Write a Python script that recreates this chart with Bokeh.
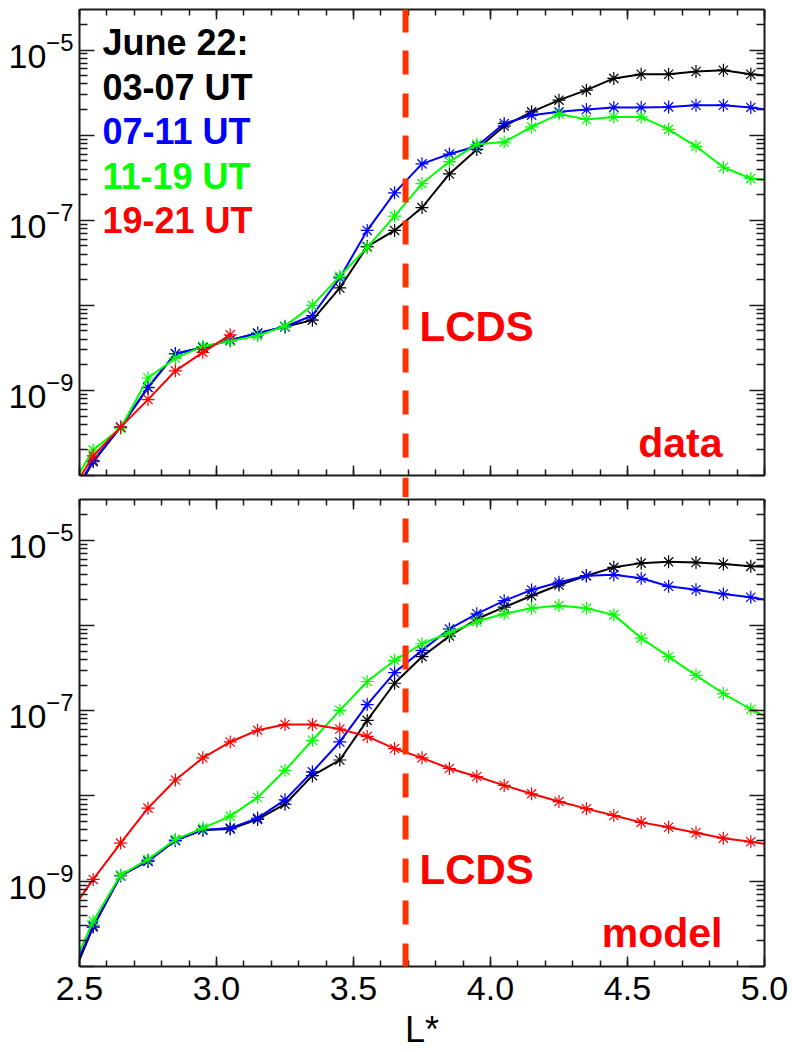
from bokeh.plotting import figure
from bokeh.models import Range1d, FixedTicker, LogAxis, LinearAxis, Label, PrintfTickFormatter
from bokeh.layouts import column
from bokeh.embed import file_html
from bokeh.resources import INLINE

# ---------------- data ----------------
L_STAR = [2.45, 2.55, 2.65, 2.75, 2.85, 2.95, 3.05, 3.15, 3.25, 3.35, 3.45, 3.55, 3.65, 3.75,
          3.85, 3.95, 4.05, 4.15, 4.25, 4.35, 4.45, 4.55, 4.65, 4.75, 4.85, 4.95, 5.05]
L_STAR_1921_DATA = [2.45, 2.55, 2.65, 2.75, 2.85, 2.95, 3.05]

data_0307 = [4.0e-11, 1.45e-10, 3.7e-10, 1.08e-9, 2.7e-9, 3.2e-9, 3.9e-9, 4.7e-9, 5.6e-9, 6.7e-9,
             1.6e-8, 4.9e-8, 7.6e-8, 1.41e-7, 3.5e-7, 6.8e-7, 1.28e-6, 1.88e-6, 2.58e-6, 3.38e-6,
             4.65e-6, 5.2e-6, 5.2e-6, 5.6e-6, 5.8e-6, 5.2e-6, 4.9e-6]
data_0711 = [4.3e-11, 1.5e-10, 3.7e-10, 1.09e-9, 2.7e-9, 3.2e-9, 3.9e-9, 4.7e-9, 5.6e-9, 7.6e-9,
             2.1e-8, 7.6e-8, 2.1e-7, 4.6e-7, 6.0e-7, 7.4e-7, 1.37e-6, 1.72e-6, 1.88e-6, 2.0e-6,
             2.12e-6, 2.12e-6, 2.15e-6, 2.25e-6, 2.25e-6, 2.12e-6, 1.91e-6]
data_1119 = [5.8e-11, 2.0e-10, 3.6e-10, 1.4e-9, 2.4e-9, 3.3e-9, 3.8e-9, 4.4e-9, 5.7e-9, 1.0e-8,
             2.2e-8, 4.8e-8, 1.12e-7, 2.7e-7, 4.9e-7, 7.8e-7, 8.3e-7, 1.25e-6, 1.77e-6, 1.53e-6,
             1.64e-6, 1.64e-6, 1.17e-6, 7.4e-7, 4.2e-7, 3.1e-7, 2.9e-7]
data_1921 = [5.1e-11, 1.7e-10, 3.7e-10, 7.8e-10, 1.7e-9, 2.8e-9, 4.5e-9]

model_0307 = [5.0e-11, 2.9e-10, 1.16e-9, 1.72e-9, 3.0e-9, 4.0e-9, 4.1e-9, 5.3e-9, 8.0e-9, 1.73e-8,
              2.64e-8, 7.7e-8, 2.1e-7, 4.3e-7, 7.5e-7, 1.19e-6, 1.64e-6, 2.23e-6, 2.98e-6, 3.83e-6,
              4.80e-6, 5.38e-6, 5.57e-6, 5.48e-6, 5.25e-6, 4.93e-6, 4.84e-6]
model_0711 = [5.7e-11, 3.0e-10, 1.16e-9, 1.72e-9, 3.0e-9, 4.0e-9, 4.2e-9, 5.5e-9, 9.0e-9, 1.92e-8,
              4.3e-8, 1.18e-7, 2.8e-7, 5.1e-7, 9.1e-7, 1.37e-6, 1.95e-6, 2.61e-6, 3.21e-6, 3.83e-6,
              3.94e-6, 3.57e-6, 2.88e-6, 2.62e-6, 2.34e-6, 2.14e-6, 1.89e-6]
model_1119 = [6.5e-11, 3.4e-10, 1.18e-9, 1.8e-9, 3.1e-9, 4.2e-9, 5.8e-9, 9.6e-9, 2.0e-8, 4.5e-8,
              1.01e-7, 2.2e-7, 3.9e-7, 6.1e-7, 8.2e-7, 1.11e-6, 1.37e-6, 1.59e-6, 1.71e-6, 1.59e-6,
              1.33e-6, 7.1e-7, 4.3e-7, 2.6e-7, 1.59e-7, 1.04e-7, 7.3e-8]
model_1921 = [3.7e-10, 1.05e-9, 2.8e-9, 7.2e-9, 1.54e-8, 2.8e-8, 4.3e-8, 5.9e-8, 6.9e-8, 6.9e-8,
              6.1e-8, 5.0e-8, 3.6e-8, 2.8e-8, 2.1e-8, 1.69e-8, 1.33e-8, 1.06e-8, 8.6e-9, 7.1e-9,
              5.9e-9, 4.9e-9, 4.3e-9, 3.7e-9, 3.2e-9, 2.9e-9, 2.6e-9]

SERIES_LABELS = ["03-07 UT", "07-11 UT", "11-19 UT", "19-21 UT"]
SERIES_COLORS = ["#000000", "#0000FF", "#00FF00", "#FF0000"]
LEGEND_TITLE = "June 22:"
X_TITLE = "L*"

LCDS_L = 3.69

X_TICKS = [2.5, 3.0, 3.5, 4.0, 4.5, 5.0]
X_MINOR = [2.5, 2.6, 2.7, 2.8, 2.9, 3.0, 3.1, 3.2, 3.3, 3.4, 3.5, 3.6, 3.7, 3.8, 3.9, 4.0,
           4.1, 4.2, 4.3, 4.4, 4.5, 4.6, 4.7, 4.8, 4.9, 5.0]
Y_DECADES = [1e-10, 1e-9, 1e-8, 1e-7, 1e-6, 1e-5]
Y_UNLABELED = [1e-10, 1e-8, 1e-6]
Y_MINOR = [m * d for d in [1e-10, 1e-9, 1e-8, 1e-7, 1e-6, 1e-5] for m in range(2, 10) if m * d <= 3e-5]

X_RANGE = (2.5, 5.0)
Y_RANGE = (1e-10, 3e-5)

FONT = "Liberation Sans"
AXIS_COLOR = "#1a1a1a"
LCDS_COLOR = "#FF3300"
DASH = "24 18 24 19"

x_range = Range1d(*X_RANGE)


def style_axis(ax, major_in, minor_in, labels, ticks, size="34px"):
    ax.major_tick_in = major_in
    ax.major_tick_out = 0
    ax.minor_tick_in = minor_in
    ax.minor_tick_out = 0
    ax.axis_line_color = AXIS_COLOR
    ax.axis_line_width = 2
    ax.major_tick_line_color = AXIS_COLOR
    ax.major_tick_line_width = 1.5
    ax.minor_tick_line_color = AXIS_COLOR
    ax.minor_tick_line_width = 1.5
    ax.major_label_text_font = FONT
    ax.major_label_text_color = "#000000"
    if labels:
        ax.major_label_text_font_size = size
    else:
        ax.major_label_overrides = {v: "" for v in ticks}
        ax.major_label_text_font_size = "1px"
        ax.major_label_standoff = 0


def make_panel(height, b_top, b_bottom, series, dash_offset, xlabels):
    p = figure(width=792, height=height, x_range=x_range, y_range=Range1d(*Y_RANGE),
               y_axis_type="log", output_backend="svg", toolbar_location=None,
               min_border_left=79, min_border_right=28,
               min_border_top=b_top, min_border_bottom=b_bottom)
    p.grid.visible = False
    p.outline_line_color = None
    p.background_fill_color = "white"
    p.border_fill_color = "white"

    yt = FixedTicker(ticks=Y_DECADES, minor_ticks=Y_MINOR)
    xt = FixedTicker(ticks=X_TICKS, minor_ticks=X_MINOR)

    yl = p.yaxis[0]
    yl.ticker = yt
    yl.major_label_overrides = {v: "" for v in Y_UNLABELED}
    yl.major_label_standoff = 6
    style_axis(yl, 15, 8, True, Y_DECADES)

    yr = LogAxis(ticker=yt)
    style_axis(yr, 15, 8, False, Y_DECADES)
    p.add_layout(yr, "right")

    xb = p.xaxis[0]
    xb.ticker = xt
    xb.formatter = PrintfTickFormatter(format="%.1f")
    style_axis(xb, 10, 6, xlabels, X_TICKS)
    if xlabels:
        xb.major_label_standoff = 10
        xb.axis_label = X_TITLE
        xb.axis_label_text_font = FONT
        xb.axis_label_text_font_size = "36px"
        xb.axis_label_text_font_style = "normal"
        xb.axis_label_text_color = "#000000"
        xb.axis_label_standoff = 6

    xa = LinearAxis(ticker=xt)
    style_axis(xa, 10, 6, False, X_TICKS)
    p.add_layout(xa, "above")

    for (xs, ys), c in zip(series, SERIES_COLORS):
        p.line(xs, ys, line_color=c, line_width=2)
        p.scatter(xs, ys, marker="asterisk", size=13, line_color=c, line_width=1.2)

    p.line([LCDS_L, LCDS_L], [Y_RANGE[1], Y_RANGE[0]], line_color=LCDS_COLOR, line_width=6,
           line_dash=DASH, line_dash_offset=dash_offset, level="overlay")
    return p


top = make_panel(477, 9, 2,
                 [(L_STAR, data_0307), (L_STAR, data_0711), (L_STAR, data_1119),
                  (L_STAR_1921_DATA, data_1921)], 1, False)
bottom = make_panel(555, 2, 86,
                    [(L_STAR, model_0307), (L_STAR, model_0711), (L_STAR, model_1119),
                     (L_STAR, model_1921)], 66, True)

# legend-like annotation texts (top panel)
legend_texts = [LEGEND_TITLE] + SERIES_LABELS
legend_colors = ["#000000"] + SERIES_COLORS
for i, (t, c) in enumerate(zip(legend_texts, legend_colors)):
    top.add_layout(Label(x=23, y=433 - 44.5 * i, x_units="screen", y_units="screen", text=t,
                         text_color=c, text_font=FONT, text_font_style="bold",
                         text_font_size="36px", text_baseline="alphabetic"))

for p, name, ybase_lcds, ybase_name in [(top, "data", 149, 33), (bottom, "model", 97, 34)]:
    p.add_layout(Label(x=340, y=ybase_lcds, x_units="screen", y_units="screen", text="LCDS",
                       text_color="#FF0000", text_font=FONT, text_font_style="bold",
                       text_font_size="42px", text_baseline="alphabetic"))
    p.add_layout(Label(x=643, y=ybase_name, x_units="screen", y_units="screen", text=name,
                       text_color="#FF0000", text_font=FONT, text_font_style="bold",
                       text_font_size="41px", text_baseline="alphabetic", text_align="right"))

# thin strip between the panels carrying the LCDS dashed line across the gap
mid = figure(width=792, height=20, x_range=x_range, y_range=Range1d(0, 1),
             output_backend="svg", toolbar_location=None,
             min_border_left=79, min_border_right=28, min_border_top=0, min_border_bottom=0,
             x_axis_location=None, y_axis_location=None)
mid.outline_line_color = None
mid.grid.visible = False
mid.line([LCDS_L, LCDS_L], [1, 0], line_color=LCDS_COLOR, line_width=6,
         line_dash=DASH, line_dash_offset=44)

layout = column(top, mid, bottom, spacing=0)
open("out.html", "w").write(file_html(layout, INLINE))
